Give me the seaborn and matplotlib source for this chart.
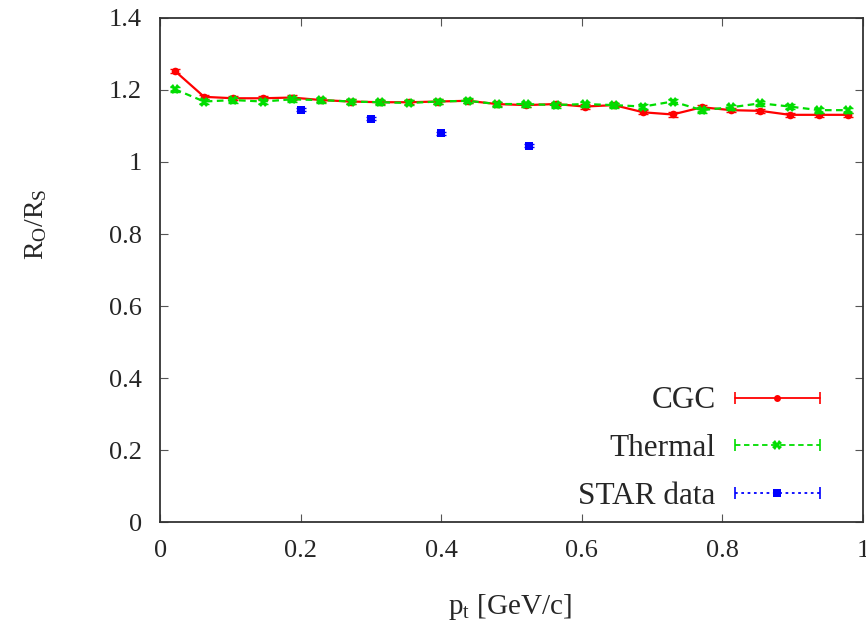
import numpy as np
import pandas as pd
import matplotlib
matplotlib.use("Agg")
import matplotlib.pyplot as plt
import seaborn as sns
from matplotlib.lines import Line2D
from matplotlib.legend_handler import HandlerLine2D

# ---- data ----
pt_model = [(k + 0.5) / 24 for k in range(24)]
cgc = [1.253, 1.181, 1.177, 1.177, 1.179, 1.172, 1.168, 1.166, 1.166, 1.168, 1.170, 1.161,
       1.158, 1.161, 1.154, 1.158, 1.138, 1.132, 1.152, 1.144, 1.142, 1.131, 1.131, 1.131]
cgc_err = [0.006] * 24
thermal = [1.202, 1.168, 1.172, 1.168, 1.174, 1.172, 1.168, 1.166, 1.164, 1.168, 1.170, 1.161,
           1.161, 1.158, 1.161, 1.158, 1.154, 1.168, 1.144, 1.152, 1.163, 1.154, 1.144, 1.144]
thermal_err = [0.007] * 24
pt_star = [0.2, 0.3, 0.4, 0.525]
star = [1.145, 1.12, 1.08, 1.045]
star_err = [0.004, 0.004, 0.004, 0.004]

labels = ["CGC", "Thermal", "STAR data"]
colors = ["#ff0000", "#00dd00", "#0000ff"]

sns.set_style("ticks")
plt.rcParams["font.family"] = ["Liberation Serif", "DejaVu Serif"]
plt.rcParams["mathtext.fontset"] = "custom"
plt.rcParams["mathtext.rm"] = "Liberation Serif"
plt.rcParams["mathtext.it"] = "Liberation Serif"

fig = plt.figure(figsize=(8.66, 6.2), dpi=100)
ax = fig.add_axes([0.185, 0.158, 0.8115, 0.813])

df_cgc = pd.DataFrame({"pt": pt_model, "r": cgc})
df_th = pd.DataFrame({"pt": pt_model, "r": thermal})
df_star = pd.DataFrame({"pt": pt_star, "r": star})

sns.lineplot(data=df_cgc, x="pt", y="r", ax=ax, color=colors[0], lw=1.6,
             marker="o", markersize=5.5, markeredgewidth=0, legend=False)
ax.errorbar(pt_model, cgc, yerr=cgc_err, fmt="none", ecolor=colors[0], elinewidth=1.2, capsize=3.5)

sns.lineplot(data=df_th, x="pt", y="r", ax=ax, color=colors[1], lw=1.6,
             marker="X", markersize=7, markeredgewidth=0, legend=False)
ax.lines[-1].set_dashes([3, 2])
ax.errorbar(pt_model, thermal, yerr=thermal_err, fmt="none", ecolor=colors[1], elinewidth=1.2, capsize=3.5)

sns.scatterplot(data=df_star, x="pt", y="r", ax=ax, color=colors[2], marker="s", s=40,
                linewidth=0, legend=False)
ax.errorbar(pt_star, star, yerr=star_err, fmt="none", ecolor=colors[2], elinewidth=1, capsize=3.5)

ax.set_xlim(0, 1)
ax.set_ylim(0, 1.4)
ax.set_xticks([0, 0.2, 0.4, 0.6, 0.8, 1])
ax.set_xticklabels(["0", "0.2", "0.4", "0.6", "0.8", "1"])
ax.set_yticks([0, 0.2, 0.4, 0.6, 0.8, 1, 1.2, 1.4])
ax.set_yticklabels(["0", "0.2", "0.4", "0.6", "0.8", "1", "1.2", "1.4"])
ax.tick_params(direction="in", top=True, right=True, labelsize=19, length=6, width=0.8,
               pad=13, color="#555555")
for s in ax.spines.values():
    s.set_visible(True)
    s.set_linewidth(1.3)
    s.set_color("#333333")
ax.set_xlabel(r"p$_\mathregular{t}$ [GeV/c]", fontsize=21)
ax.set_ylabel(r"R$_\mathregular{O}$/R$_\mathregular{S}$", fontsize=20)
ax.xaxis.set_label_coords(0.498, -0.138)
ax.yaxis.set_label_coords(-0.158, 0.59)

cap_handles = []
center_handles = []
for c, ls, mk, ms in [(colors[0], "-", "o", 5), (colors[1], (0, (3, 2)), "X", 7), (colors[2], (0, (1.5, 2)), "s", 6)]:
    caps = Line2D([0], [0], color=c, lw=1.3, ls=ls, marker="|", markersize=9, markeredgewidth=1.2)
    center = Line2D([0], [0], color=c, lw=0, marker=mk, markersize=ms, markeredgewidth=0)
    cap_handles.append(caps)
    center_handles.append(center)
handles = [(a, b) for a, b in zip(cap_handles, center_handles)]
hmap = {h: HandlerLine2D(numpoints=2) for h in cap_handles}
hmap.update({h: HandlerLine2D(numpoints=1) for h in center_handles})
ax.legend(handles, labels, loc="lower right", bbox_to_anchor=(0.952, 0.022), frameon=False,
          markerfirst=False, fontsize=22.5, handlelength=3.32, labelspacing=0.6,
          handletextpad=0.31, borderpad=0, borderaxespad=0, handler_map=hmap)

fig.savefig("out.png", dpi=100)
